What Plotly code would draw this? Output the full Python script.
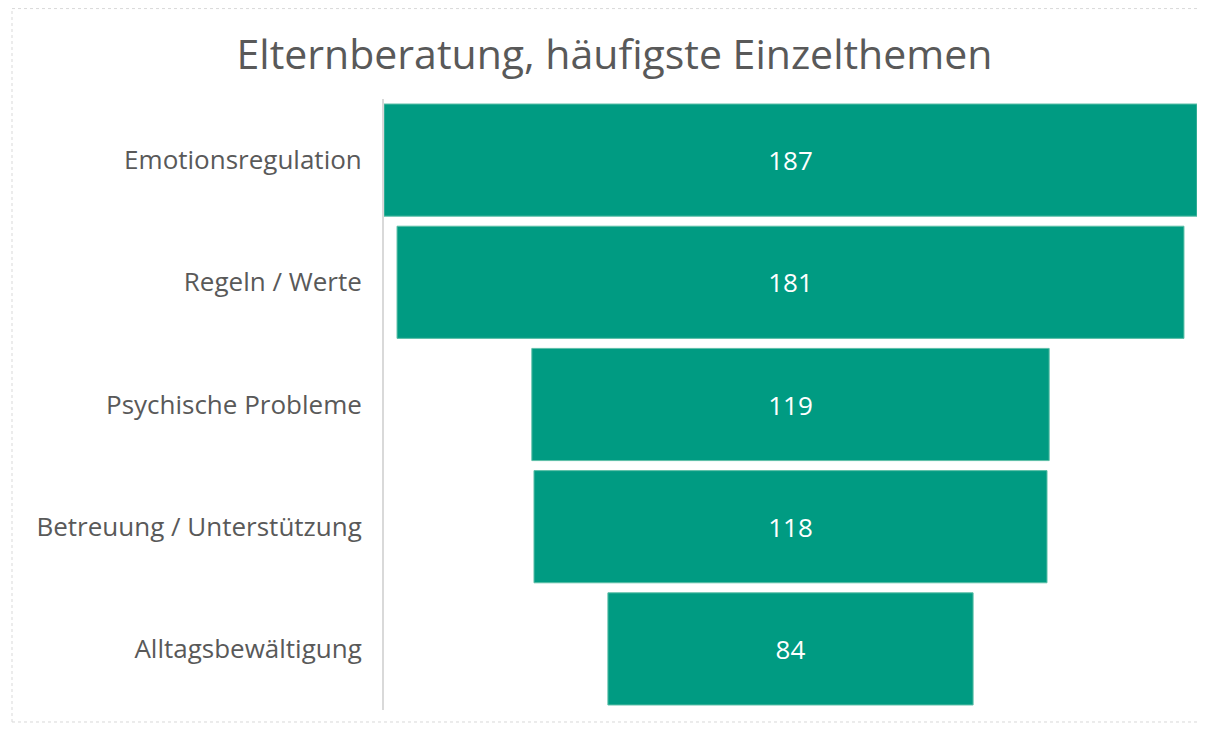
import plotly.graph_objects as go

categories = ["Emotionsregulation", "Regeln / Werte", "Psychische Probleme",
              "Betreuung / Unterstützung", "Alltagsbewältigung"]
values = [187, 181, 119, 118, 84]
title = "Elternberatung, häufigste Einzelthemen"

# page body has an 8px margin; size the figure so it fits the window
OFF = 8
W, H = 1190, 715
ml = 384 - OFF
mt = 99 - OFF
mr = W - (1197 - OFF)
mb = H - (710.5 - OFF)
pw = W - ml - mr
ph = H - mt - mb

def px_x(p):
    return (p - OFF - ml) / pw

def px_y(p):
    return (H - mb - (p - OFF)) / ph

fig = go.Figure(go.Funnel(
    y=categories, x=values,
    marker=dict(color="#009B82", line=dict(color="#5DBFA8", width=1)),
    connector=dict(visible=False),
    textposition="inside", textinfo="value",
    textfont=dict(color="white", size=26, family="Open Sans"),
    insidetextanchor="middle",
))

border = dict(color="#D9D9D9", width=1, dash="dot")
bx0, bx1, by0, by1 = px_x(12), px_x(1220), px_y(722.5), px_y(8.5)

fig.update_layout(
    width=W, height=H,
    margin=dict(l=ml, r=mr, t=mt, b=mb, pad=0),
    paper_bgcolor="white", plot_bgcolor="white",
    title=dict(text=title, x=(614.5 - OFF) / W, xref="container", xanchor="center",
               y=1 - (55 - OFF) / H, yref="container", yanchor="middle",
               font=dict(family="Open Sans", size=41, color="#595959")),
    funnelgap=0.082,
    showlegend=False,
    xaxis=dict(range=[-93.5, 93.5], visible=False, fixedrange=True),
    yaxis=dict(showline=True, linecolor="#D9D9D9", linewidth=2,
               ticks="", ticklabelstandoff=15,
               tickfont=dict(family="Open Sans", size=26, color="#595959")),
    shapes=[
        dict(type="line", xref="paper", yref="paper", x0=bx0, x1=bx1, y0=by1, y1=by1,
             line=border, layer="below"),
        dict(type="line", xref="paper", yref="paper", x0=bx0, x1=bx1, y0=by0, y1=by0,
             line=border, layer="below"),
        dict(type="line", xref="paper", yref="paper", x0=bx0, x1=bx0, y0=by0, y1=by1,
             line=border, layer="below"),
    ],
)

fig.write_html("out.html")
